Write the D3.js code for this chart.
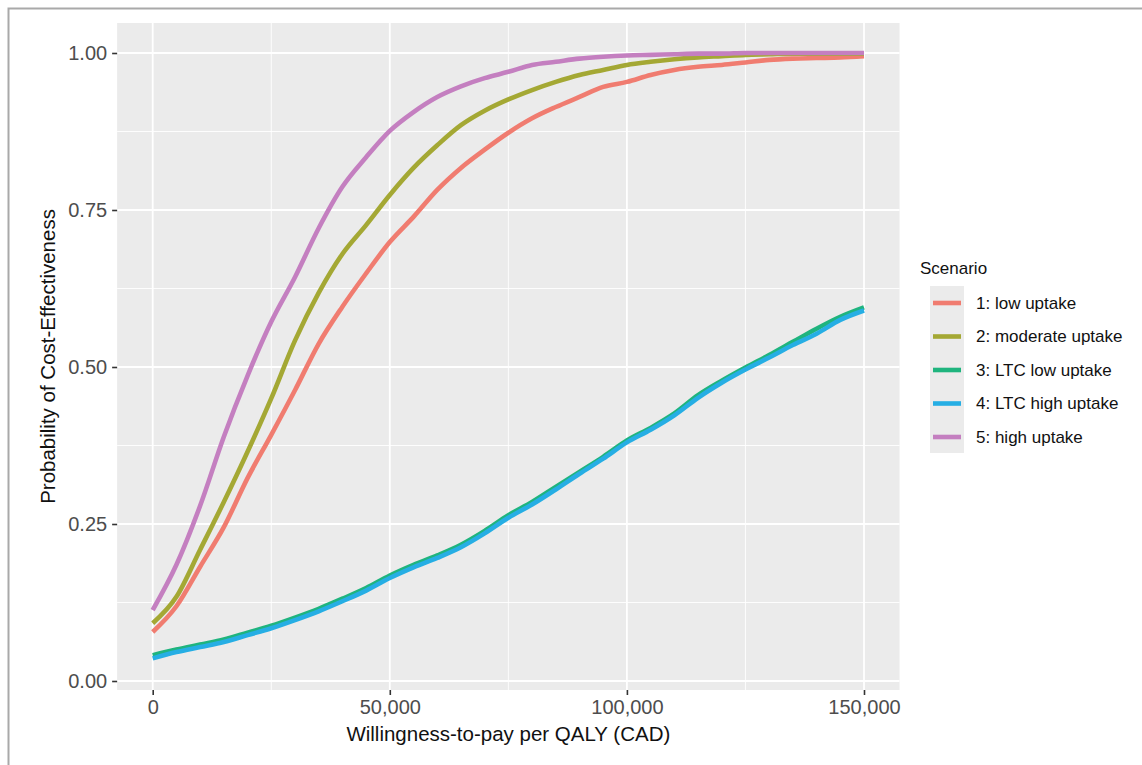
<!DOCTYPE html>
<html>
<head>
<meta charset="utf-8">
<script src="https://cdn.jsdelivr.net/npm/d3@7"></script>
<style>
  body { margin: 0; background: #fff; }
  svg { display: block; font-family: "Liberation Sans", Arial, sans-serif; }
</style>
</head>
<body>
<svg id="chart" width="1142" height="765"></svg>
<script>
// Willingness-to-pay values (CAD per QALY)
const wtp = [0, 5000, 10000, 15000, 20000, 25000, 30000, 35000, 40000, 45000,
  50000, 55000, 60000, 65000, 70000, 75000, 80000, 85000, 90000, 95000,
  100000, 105000, 110000, 115000, 120000, 125000, 130000, 135000, 140000, 145000, 150000];

const lowUptake = [0.078, 0.119, 0.182, 0.245, 0.323, 0.392, 0.463, 0.537, 0.596, 0.649,
  0.699, 0.739, 0.782, 0.817, 0.846, 0.873, 0.896, 0.914, 0.930, 0.946,
  0.954, 0.965, 0.973, 0.978, 0.981, 0.985, 0.989, 0.991, 0.992, 0.993, 0.995];
const moderateUptake = [0.092, 0.134, 0.209, 0.285, 0.365, 0.450, 0.542, 0.618, 0.680, 0.726,
  0.774, 0.817, 0.853, 0.885, 0.908, 0.926, 0.941, 0.954, 0.965, 0.973,
  0.981, 0.986, 0.990, 0.993, 0.995, 0.997, 0.998, 0.999, 0.999, 0.999, 0.999];
const ltcLowUptake = [0.041, 0.050, 0.058, 0.066, 0.077, 0.088, 0.101, 0.115, 0.131, 0.148,
  0.168, 0.185, 0.200, 0.217, 0.239, 0.264, 0.285, 0.309, 0.333, 0.357,
  0.383, 0.403, 0.426, 0.455, 0.478, 0.499, 0.519, 0.540, 0.561, 0.580, 0.595];
const ltcHighUptake = [0.036, 0.046, 0.054, 0.062, 0.073, 0.084, 0.097, 0.111, 0.127, 0.144,
  0.164, 0.181, 0.196, 0.213, 0.235, 0.260, 0.281, 0.305, 0.330, 0.354,
  0.380, 0.400, 0.423, 0.451, 0.475, 0.496, 0.515, 0.535, 0.553, 0.575, 0.590];
const highUptake = [0.113, 0.185, 0.279, 0.389, 0.486, 0.572, 0.643, 0.721, 0.787, 0.834,
  0.876, 0.906, 0.930, 0.947, 0.960, 0.970, 0.981, 0.986, 0.991, 0.994,
  0.996, 0.997, 0.998, 0.999, 0.999, 1.000, 1.000, 1.000, 1.000, 1.000, 1.000];

const scenarioNames = ['1: low uptake', '2: moderate uptake', '3: LTC low uptake',
  '4: LTC high uptake', '5: high uptake'];
const scenarioColors = ['#f07c70', '#a4a834', '#1fb47e', '#26aee4', '#c47fc0'];
const scenarioValues = [lowUptake, moderateUptake, ltcLowUptake, ltcHighUptake, highUptake];

const xTicks = [0, 50000, 100000, 150000];
const xMinor = [25000, 75000, 125000];
const yTicks = [0, 0.25, 0.5, 0.75, 1];
const yMinor = [0.125, 0.375, 0.625, 0.875];

const svg = d3.select('#chart');

// Outer frame (only top and left edges show)
svg.append('rect')
  .attr('x', 8.5).attr('y', 8.5)
  .attr('width', 1200).attr('height', 800)
  .attr('fill', 'none')
  .attr('stroke', '#a9a9a9')
  .attr('stroke-width', 2);

const x = d3.scaleLinear().domain([0, 150000]).range([152.7, 864]);
const y = d3.scaleLinear().domain([0, 1]).range([681, 53]);

const panel = {
  left: x(-7500), right: x(157500),
  top: y(1.0478), bottom: y(-0.0143)
};

// Panel background
svg.append('rect')
  .attr('x', panel.left).attr('y', panel.top)
  .attr('width', panel.right - panel.left)
  .attr('height', panel.bottom - panel.top)
  .attr('fill', '#ebebeb');

// Grid lines
const grid = svg.append('g').attr('stroke', '#fff');
grid.selectAll('.xminor').data(xMinor).join('line')
  .attr('x1', d => x(d)).attr('x2', d => x(d))
  .attr('y1', panel.top).attr('y2', panel.bottom)
  .attr('stroke-width', 0.9);
grid.selectAll('.yminor').data(yMinor).join('line')
  .attr('y1', d => y(d)).attr('y2', d => y(d))
  .attr('x1', panel.left).attr('x2', panel.right)
  .attr('stroke-width', 0.9);
grid.selectAll('.xmajor').data(xTicks).join('line')
  .attr('x1', d => x(d)).attr('x2', d => x(d))
  .attr('y1', panel.top).attr('y2', panel.bottom)
  .attr('stroke-width', 1.8);
grid.selectAll('.ymajor').data(yTicks).join('line')
  .attr('y1', d => y(d)).attr('y2', d => y(d))
  .attr('x1', panel.left).attr('x2', panel.right)
  .attr('stroke-width', 1.8);

// Curves
const line = d3.line()
  .x((d, i) => x(wtp[i]))
  .y(d => y(d))
  .curve(d3.curveMonotoneX);

svg.append('g')
  .attr('fill', 'none')
  .attr('stroke-width', 4.6)
  .attr('stroke-linejoin', 'round')
  .selectAll('path')
  .data(scenarioValues)
  .join('path')
  .attr('stroke', (d, i) => scenarioColors[i])
  .attr('d', line);

// Axes
const xAxis = svg.append('g')
  .attr('transform', `translate(0,${panel.bottom})`)
  .call(d3.axisBottom(x).tickValues(xTicks).tickFormat(d3.format(',')).tickSize(5).tickPadding(5));
const yAxis = svg.append('g')
  .attr('transform', `translate(${panel.left},0)`)
  .call(d3.axisLeft(y).tickValues(yTicks).tickFormat(d3.format('.2f')).tickSize(5).tickPadding(5));

[xAxis, yAxis].forEach(axis => {
  axis.select('.domain').remove();
  axis.selectAll('.tick line').attr('stroke', '#333').attr('stroke-width', 1.6);
  axis.selectAll('.tick text')
    .attr('fill', '#4d4d4d')
    .style('font-size', '20px')
    .style('font-family', '"Liberation Sans", Arial, sans-serif');
});

// Axis titles
svg.append('text')
  .attr('x', (panel.left + panel.right) / 2)
  .attr('y', 741)
  .attr('text-anchor', 'middle')
  .attr('fill', '#111')
  .style('font-size', '20.5px')
  .text('Willingness-to-pay per QALY (CAD)');

svg.append('text')
  .attr('transform', `translate(55,${(panel.top + panel.bottom) / 2}) rotate(-90)`)
  .attr('text-anchor', 'middle')
  .attr('fill', '#111')
  .style('font-size', '20.5px')
  .text('Probability of Cost-Effectiveness');

// Legend
const legend = svg.append('g').attr('transform', 'translate(920,0)');
legend.append('text')
  .attr('x', 0).attr('y', 274)
  .attr('fill', '#111')
  .style('font-size', '17px')
  .text('Scenario');
legend.append('rect')
  .attr('x', 10).attr('y', 286)
  .attr('width', 34).attr('height', 167)
  .attr('fill', '#ebebeb');

const rowY = d3.scalePoint().domain(scenarioNames).range([303, 437]);
const rows = legend.selectAll('.row').data(scenarioNames).join('g')
  .attr('transform', d => `translate(0,${rowY(d)})`);
rows.append('line')
  .attr('x1', 13).attr('x2', 41)
  .attr('stroke', (d, i) => scenarioColors[i])
  .attr('stroke-width', 4.6);
rows.append('text')
  .attr('x', 56).attr('dy', '0.35em')
  .attr('fill', '#111')
  .style('font-size', '17px')
  .text(d => d);
</script>
</body>
</html>
